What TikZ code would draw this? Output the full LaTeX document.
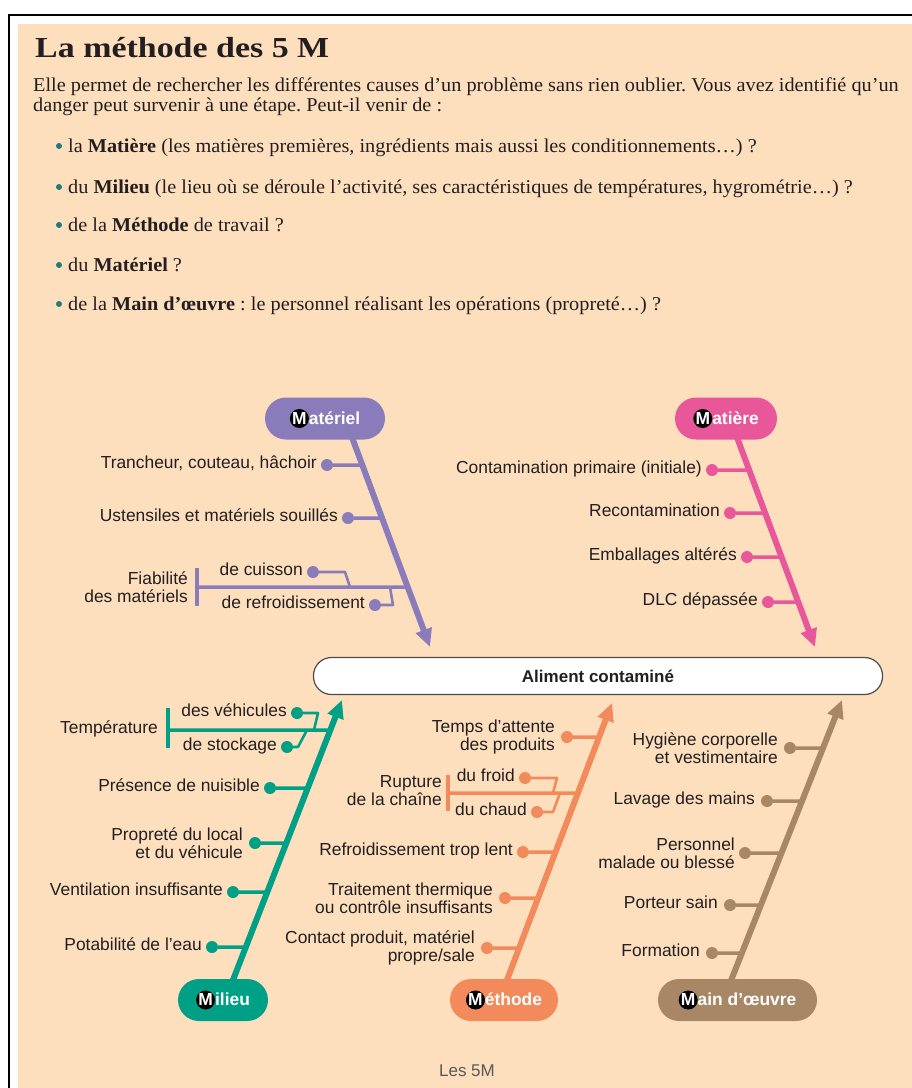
\documentclass[tikz,border=0pt]{standalone}
\usepackage{fontspec}
\setmainfont{Liberation Serif}
\setsansfont{Liberation Sans}
\newfontfamily\bodyserif[FakeStretch=1.035]{Liberation Serif}
\newfontfamily\titleserif[FakeStretch=1.17]{Liberation Serif}
\usetikzlibrary{calc,arrows.meta}
\definecolor{beige}{HTML}{FDDFBE}
\definecolor{cmat}{HTML}{8A7CBB}
\definecolor{cmatiere}{HTML}{E9579B}
\definecolor{cmil}{HTML}{00A087}
\definecolor{cmeth}{HTML}{F28A5C}
\definecolor{cmain}{HTML}{A88766}
\definecolor{txt}{HTML}{231F20}
\definecolor{bul}{HTML}{1E7B7E}
\pgfdeclarelayer{back}
\pgfdeclarelayer{bg}
\pgfsetlayers{back,bg,main}
\frenchspacing
\newcommand\bodyfont{\bodyserif\fontsize{19.6}{20}\selectfont}
\newcommand\lblfont{\sffamily\fontsize{17.4}{18}\selectfont}
\newcommand\pillfont{\sffamily\bfseries\fontsize{17.4}{18}\selectfont}
\newcommand\mball{\tikz[baseline=(mb.base)]\node[circle,fill=black,text=white,inner sep=0pt,minimum size=19pt](mb){M};}
\tikzset{
  body/.style={font=\bodyfont, text=txt, inner sep=0pt, anchor=base west},
  lbl/.style={font=\lblfont, text=txt, inner sep=0pt, anchor=mid east, yshift=-1.5pt},
  lbltwo/.style={font=\lblfont, text=txt, inner sep=0pt, anchor=east, align=right},
  dotn/.style={circle, fill=#1, inner sep=0pt, minimum size=12pt},
  rib/.style={line width=3.5pt, draw=#1},
  subrib/.style={line width=2.6pt, draw=#1, line join=round},
  spine/.style={line width=6pt, draw=#1, -{Triangle[length=18pt,width=16pt]}},
  pill/.style={fill=#1, rounded corners=21pt, minimum height=42pt, inner sep=0pt, text=white, font=\pillfont},
  bdot/.style={circle, fill=bul, inner sep=0pt, minimum size=6pt},
}
\begin{document}
\begin{tikzpicture}[x=1pt,y=-1pt]
\useasboundingbox (0,0) rectangle (912,1088);
\begin{pgfonlayer}{back}
  \fill[beige] (18,24) rectangle (912,1088);
  \draw[line width=2pt] (9,1090) -- (9,15) -- (914,15);
\end{pgfonlayer}

% ---------- text ----------
\node[body, font=\titleserif\bfseries\fontsize{29}{30}\selectfont] (title) at (35,57) {La méthode des 5 M};
\node[body] (p1) at (33,91) {Elle permet de rechercher les différentes causes d’un problème sans rien oublier. Vous avez identifié qu’un};
\node[body] (p2) at (33,111) {danger peut survenir à une étape. Peut-il venir de :};
\node[bdot] (b1) at (59,146) {};
\node[body] (l1) at (68,152) {la \textbf{Matière} (les matières premières, ingrédients mais aussi les conditionnements…) ?};
\node[bdot] (b2) at (59,187) {};
\node[body] (l2) at (68,193) {du \textbf{Milieu} (le lieu où se déroule l’activité, ses caractéristiques de températures, hygrométrie…) ?};
\node[bdot] (b3) at (59,225) {};
\node[body] (l3) at (68,231) {de la \textbf{Méthode} de travail ?};
\node[bdot] (b4) at (59,265) {};
\node[body] (l4) at (68,271) {du \textbf{Matériel} ?};
\node[bdot] (b5) at (59,304) {};
\node[body] (l5) at (68,310) {de la \textbf{Main d’œuvre} : le personnel réalisant les opérations (propreté…) ?};

% ---------- central box ----------
\node[draw=black!70, line width=1.2pt, fill=white, rounded corners=18pt, minimum width=569pt, minimum height=37pt, inner sep=0pt, font=\sffamily\bfseries\fontsize{17}{18}\selectfont, text=txt] (box) at (598,676) {Aliment contaminé};

% ---------- pills ----------
\node[pill=cmat, minimum width=120pt] (pmat) at (325,418.5) {\mball atériel};
\node[pill=cmatiere, minimum width=102pt] (pmatiere) at (726,418.5) {\mball atière};
\node[pill=cmil, minimum width=90pt] (pmil) at (223,1000) {\mball ilieu};
\node[pill=cmeth, minimum width=108pt] (pmeth) at (504,1000) {\mball éthode};
\node[pill=cmain, minimum width=159pt] (pmain) at (737.5,1000) {\mball ain d’œuvre};

% ---------- Matériel ----------
\coordinate (ms) at (353,440); \coordinate (me) at (430,647);
\coordinate (mj1) at ($(ms)!{25/207}!(me)$);
\coordinate (mj2) at ($(ms)!{78/207}!(me)$);
\coordinate (mj3) at ($(ms)!{147/207}!(me)$);
\node[dotn=cmat] (md1) at (327,465) {};
\node[lbl] (ml1) at ($(md1)+(-10,0)$) {Trancheur, couteau, hâchoir};
\node[dotn=cmat] (md2) at (348,518) {};
\node[lbl] (ml2) at ($(md2)+(-10,0)$) {Ustensiles et matériels souillés};
\coordinate (mbar) at (197,587); \coordinate (mbt) at (197,568); \coordinate (mbb) at (197,606);
\node[lbltwo] (mfia) at (188,587) {Fiabilité\\des matériels};
\node[dotn=cmat] (mdc) at (313,572) {};
\node[lbl] (mlc) at ($(mdc)+(-10,0)$) {de cuisson};
\coordinate (mc1) at (345,572); \coordinate (mc2) at (350,587);
\node[dotn=cmat] (mdr) at (375,605) {};
\node[lbl] (mlr) at ($(mdr)+(-10,0)$) {de refroidissement};
\coordinate (mr1) at (393,605); \coordinate (mr2) at (390,587);

% ---------- Matière ----------
\coordinate (ts) at (738,440); \coordinate (te) at (815,647);
\coordinate (tj1) at ($(ts)!{30/207}!(te)$);
\coordinate (tj2) at ($(ts)!{73/207}!(te)$);
\coordinate (tj3) at ($(ts)!{117/207}!(te)$);
\coordinate (tj4) at ($(ts)!{162/207}!(te)$);
\node[dotn=cmatiere] (td1) at (712,470) {};
\node[lbl] (tl1) at ($(td1)+(-10,0)$) {Contamination primaire (initiale)};
\node[dotn=cmatiere] (td2) at (730,513) {};
\node[lbl] (tl2) at ($(td2)+(-10,0)$) {Recontamination};
\node[dotn=cmatiere] (td3) at (747,557) {};
\node[lbl] (tl3) at ($(td3)+(-10,0)$) {Emballages altérés};
\node[dotn=cmatiere] (td4) at (768,602) {};
\node[lbl] (tl4) at ($(td4)+(-10,0)$) {DLC dépassée};

% ---------- Milieu ----------
\coordinate (ls) at (233,980); \coordinate (le) at (342,700);
\coordinate (lj0) at ($(ls)!{250/280}!(le)$);
\coordinate (lj1) at ($(ls)!{192/280}!(le)$);
\coordinate (lj2) at ($(ls)!{137/280}!(le)$);
\coordinate (lj3) at ($(ls)!{88/280}!(le)$);
\coordinate (lj4) at ($(ls)!{33/280}!(le)$);
\coordinate (lbar) at (168,730); \coordinate (lbt) at (168,708); \coordinate (lbb) at (168,748);
\node[lbl] (ltemp) at (158,730) {Température};
\node[dotn=cmil] (ldv) at (297,713) {};
\node[lbl] (llv) at ($(ldv)+(-10,0)$) {des véhicules};
\coordinate (lv1) at (318,713); \coordinate (lv2) at (314,730);
\node[dotn=cmil] (lds) at (287,747) {};
\node[lbl] (lls) at ($(lds)+(-10,0)$) {de stockage};
\coordinate (lsa) at (298,747); \coordinate (lsb) at (307,730);
\node[dotn=cmil] (ld1) at (270,788) {};
\node[lbl] (ll1) at ($(ld1)+(-10,0)$) {Présence de nuisible};
\node[dotn=cmil] (ld2) at (255,843) {};
\node[lbltwo] (ll2) at ($(ld2)+(-12,0)$) {Propreté du local\\et du véhicule};
\node[dotn=cmil] (ld3) at (233,892) {};
\node[lbl] (ll3) at ($(ld3)+(-10,0)$) {Ventilation insuffisante};
\node[dotn=cmil] (ld4) at (212,947) {};
\node[lbl] (ll4) at ($(ld4)+(-10,0)$) {Potabilité de l’eau};

% ---------- Méthode ----------
\coordinate (es) at (507,980); \coordinate (ee) at (612,703);
\coordinate (ej1) at ($(es)!{243/277}!(ee)$);
\coordinate (ej0) at ($(es)!{187/277}!(ee)$);
\coordinate (ej2) at ($(es)!{128/277}!(ee)$);
\coordinate (ej3) at ($(es)!{82/277}!(ee)$);
\coordinate (ej4) at ($(es)!{32/277}!(ee)$);
\node[dotn=cmeth] (ed1) at (567,737) {};
\node[lbltwo] (el1) at ($(ed1)+(-12,0)$) {Temps d’attente\\des produits};
\coordinate (ebar) at (448,793); \coordinate (ebt) at (448,775); \coordinate (ebb) at (448,811);
\node[lbltwo] (erup) at (442,791) {Rupture\\de la chaîne};
\node[dotn=cmeth] (edf) at (525,778) {};
\node[lbl] (elf) at ($(edf)+(-10,0)$) {du froid};
\coordinate (ef1) at (557,778); \coordinate (ef2) at (553,793);
\node[dotn=cmeth] (edc) at (537,812) {};
\node[lbl] (elc) at ($(edc)+(-10,0)$) {du chaud};
\coordinate (ec1) at (553,812); \coordinate (ec2) at (560,793);
\node[dotn=cmeth] (ed2) at (523,852) {};
\node[lbl] (el2) at ($(ed2)+(-10,0)$) {Refroidissement trop lent};
\node[dotn=cmeth] (ed3) at (505,898) {};
\node[lbltwo] (el3) at ($(ed3)+(-12,0)$) {Traitement thermique\\ou contrôle insuffisants};
\node[dotn=cmeth] (ed4) at (487,948) {};
\node[lbltwo] (el4) at ($(ed4)+(-12,0)$) {Contact produit, matériel\\propre/sale};

% ---------- Main d'oeuvre ----------
\coordinate (os) at (732,978); \coordinate (oe) at (842,700);
\coordinate (oj1) at ($(os)!{230/278}!(oe)$);
\coordinate (oj2) at ($(os)!{177/278}!(oe)$);
\coordinate (oj3) at ($(os)!{125/278}!(oe)$);
\coordinate (oj4) at ($(os)!{73/278}!(oe)$);
\coordinate (oj5) at ($(os)!{25/278}!(oe)$);
\node[dotn=cmain] (od1) at (790,748) {};
\node[lbltwo] (ol1) at ($(od1)+(-12,0)$) {Hygiène corporelle\\et vestimentaire};
\node[dotn=cmain] (od2) at (767,801) {};
\node[lbl] (ol2) at ($(od2)+(-12,0)$) {Lavage des mains};
\node[dotn=cmain] (od3) at (745,853) {};
\node[lbltwo] (ol3) at ($(od3)+(-10,0)$) {Personnel\\malade ou blessé};
\node[dotn=cmain] (od4) at (730,905) {};
\node[lbl] (ol4) at ($(od4)+(-12,0)$) {Porteur sain};
\node[dotn=cmain] (od5) at (712,953) {};
\node[lbl] (ol5) at ($(od5)+(-12,0)$) {Formation};

% ---------- caption ----------
\node[font=\sffamily\fontsize{17}{18}\selectfont, text=black!65, inner sep=0pt] (cap) at (467,1071) {Les 5M};

% ---------- connectors ----------
\begin{pgfonlayer}{bg}
  % Matériel
  \draw[rib=cmat] (md1) -- (mj1);
  \draw[rib=cmat] (md2) -- (mj2);
  \draw[rib=cmat] (mbar) -- (mj3);
  \draw[rib=cmat] (mbt) -- (mbb);
  \draw[subrib=cmat] (mdc) -- (mc1) -- (mc2);
  \draw[subrib=cmat] (mdr) -- (mr1) -- (mr2);
  \draw[spine=cmat] ($(me)!1.08!(ms)$) -- (me);
  % Matière
  \draw[rib=cmatiere] (td1) -- (tj1);
  \draw[rib=cmatiere] (td2) -- (tj2);
  \draw[rib=cmatiere] (td3) -- (tj3);
  \draw[rib=cmatiere] (td4) -- (tj4);
  \draw[spine=cmatiere] ($(te)!1.08!(ts)$) -- (te);
  % Milieu
  \draw[rib=cmil] (lbar) -- (lj0);
  \draw[rib=cmil] (lbt) -- (lbb);
  \draw[subrib=cmil] (ldv) -- (lv1) -- (lv2);
  \draw[subrib=cmil] (lds) -- (lsa) -- (lsb);
  \draw[rib=cmil] (ld1) -- (lj1);
  \draw[rib=cmil] (ld2) -- (lj2);
  \draw[rib=cmil] (ld3) -- (lj3);
  \draw[rib=cmil] (ld4) -- (lj4);
  \draw[spine=cmil] ($(le)!1.06!(ls)$) -- (le);
  % Méthode
  \draw[rib=cmeth] (ed1) -- (ej1);
  \draw[rib=cmeth] (ebar) -- (ej0);
  \draw[rib=cmeth] (ebt) -- (ebb);
  \draw[subrib=cmeth] (edf) -- (ef1) -- (ef2);
  \draw[subrib=cmeth] (edc) -- (ec1) -- (ec2);
  \draw[rib=cmeth] (ed2) -- (ej2);
  \draw[rib=cmeth] (ed3) -- (ej3);
  \draw[rib=cmeth] (ed4) -- (ej4);
  \draw[spine=cmeth] ($(ee)!1.06!(es)$) -- (ee);
  % Main d'oeuvre
  \draw[rib=cmain] (od1) -- (oj1);
  \draw[rib=cmain] (od2) -- (oj2);
  \draw[rib=cmain] (od3) -- (oj3);
  \draw[rib=cmain] (od4) -- (oj4);
  \draw[rib=cmain] (od5) -- (oj5);
  \draw[spine=cmain] ($(oe)!1.06!(os)$) -- (oe);
\end{pgfonlayer}
\end{tikzpicture}
\end{document}
